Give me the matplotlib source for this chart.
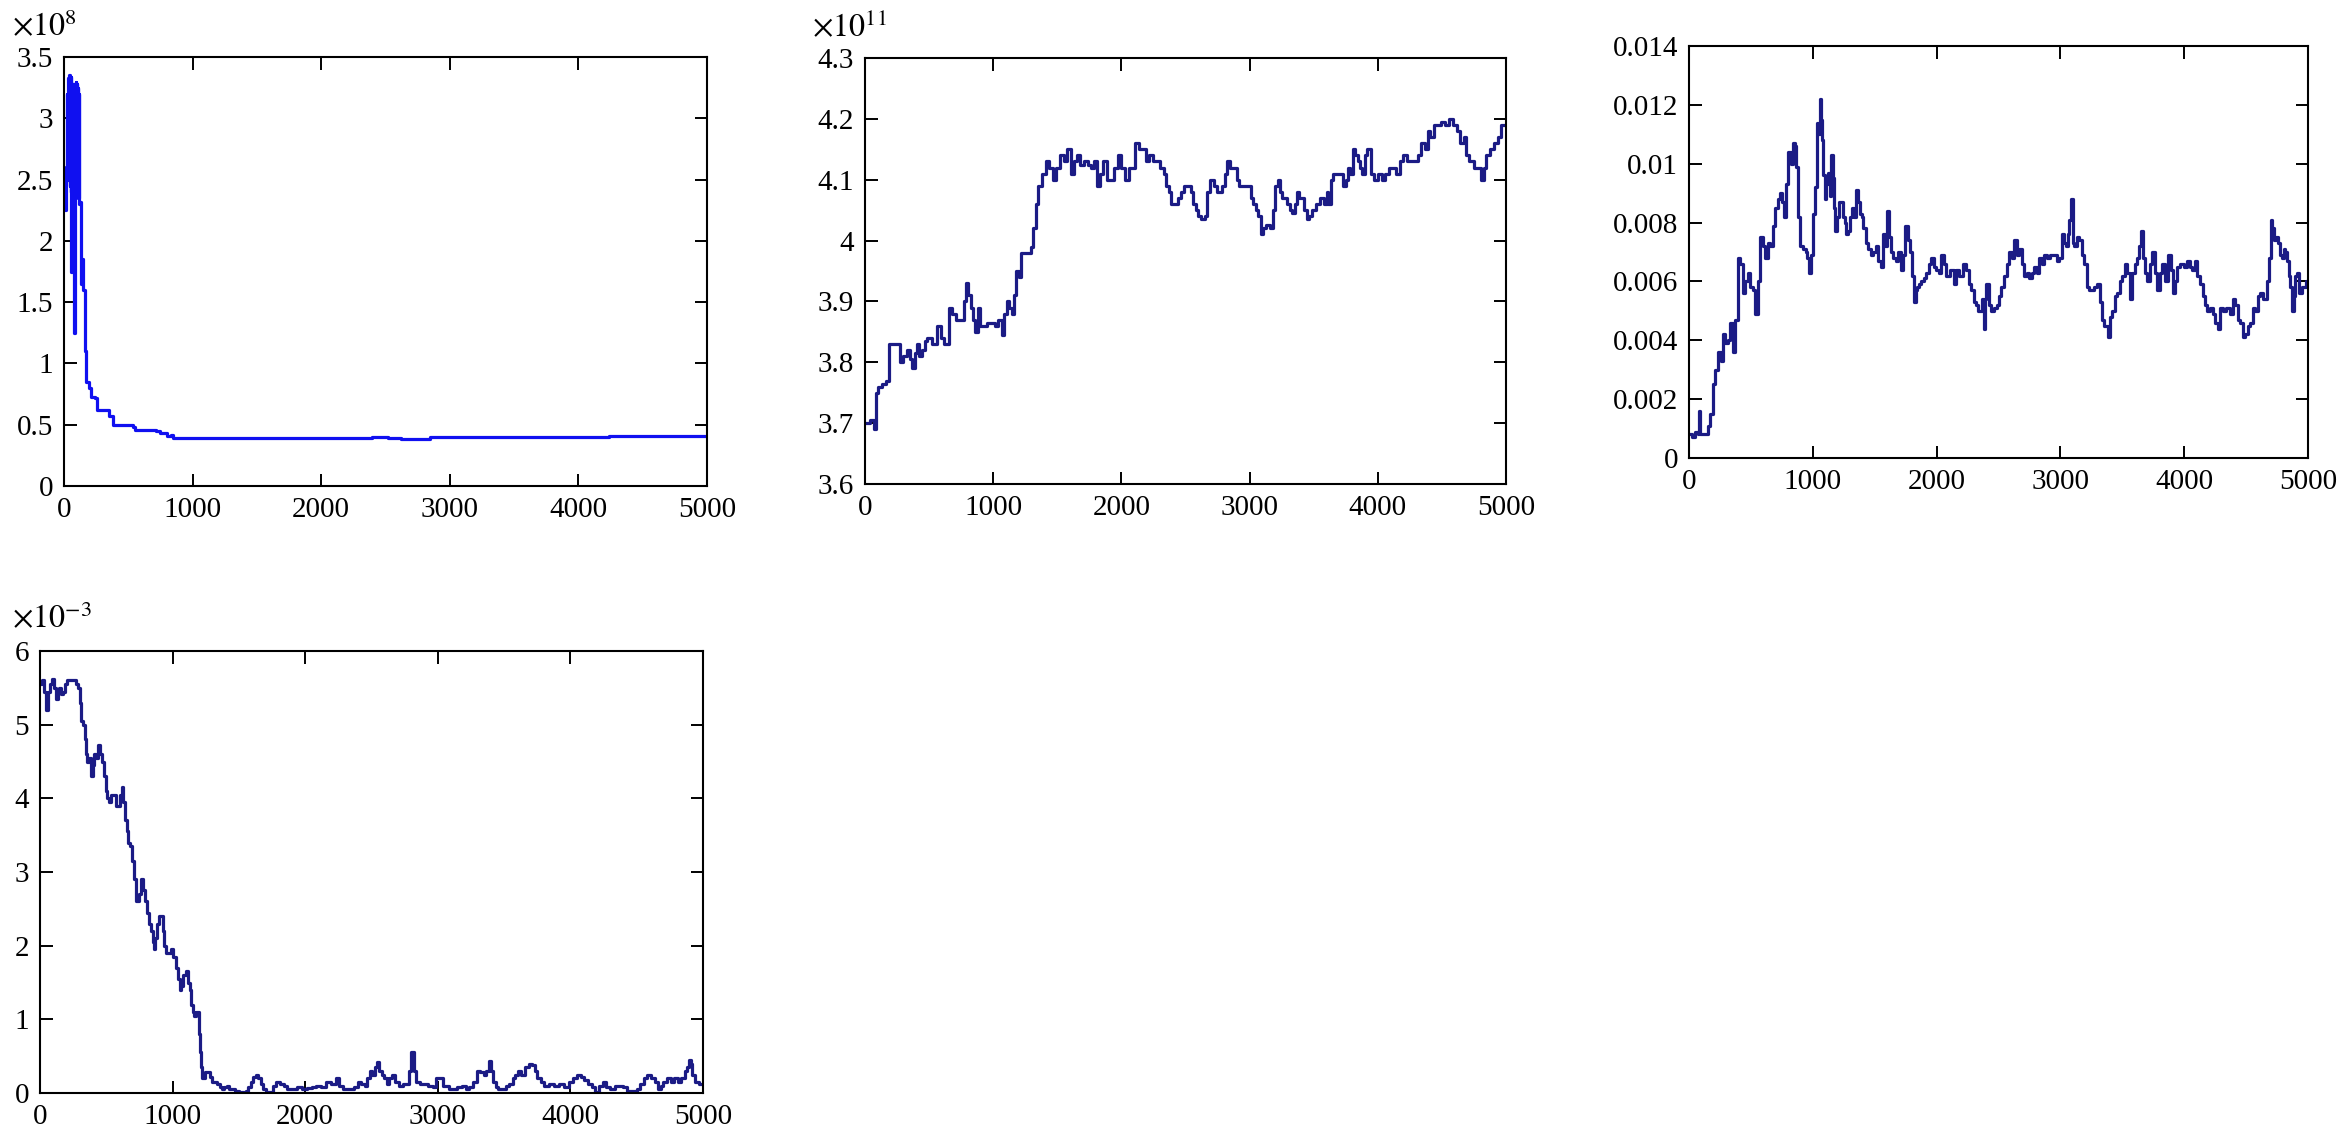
import numpy as np
import matplotlib
matplotlib.use('Agg')
import matplotlib.pyplot as plt
from matplotlib.ticker import FormatStrFormatter

plt.rcParams['font.family'] = ['Liberation Serif', 'DejaVu Serif']
plt.rcParams['mathtext.fontset'] = 'stix'

# trace values: (iteration, value in the units shown on each axis)
p1_pts = [
    (0, 2.55), (10, 2.25), (17, 2.6), (23, 3.2), (27, 2.5), (31, 3.33), (35, 2.6), (39, 3.35),
    (43, 2.45), (47, 3.3), (51, 2.4), (55, 3.34), (58, 1.75), (62, 3.1), (66, 2.5), (70, 3.28),
    (74, 2.35), (78, 1.25), (82, 3.0), (86, 2.4), (90, 3.3), (94, 2.5), (98, 3.28), (102, 2.4),
    (106, 3.25), (110, 2.35), (114, 3.2), (118, 2.3), (124, 2.32), (132, 1.65), (140, 1.85),
    (150, 1.6), (160, 1.1), (174, 0.85), (191, 0.8), (208, 0.73), (243, 0.72), (253, 0.62),
    (330, 0.62), (347, 0.57), (382, 0.5), (538, 0.48), (555, 0.46), (712, 0.45), (747, 0.43),
    (799, 0.41), (833, 0.42), (851, 0.39), (2378, 0.39), (2396, 0.40), (2517, 0.39),
    (2622, 0.385), (2639, 0.38), (2830, 0.38), (2847, 0.40), (4201, 0.40), (4236, 0.41),
    (5000, 0.41)]

p2_pts = [
    (0, 3.70), (40, 3.705), (70, 3.69), (87, 3.75), (100, 3.76), (130, 3.765), (160, 3.77),
    (190, 3.83), (255, 3.83), (275, 3.80), (300, 3.81), (330, 3.82), (350, 3.805), (370, 3.79),
    (390, 3.815), (408, 3.83), (425, 3.81), (445, 3.82), (465, 3.835), (483, 3.84), (520, 3.83),
    (558, 3.86), (590, 3.84), (615, 3.83), (653, 3.89), (680, 3.88), (710, 3.87), (747, 3.87),
    (770, 3.90), (785, 3.93), (800, 3.91), (823, 3.89), (845, 3.87), (860, 3.85), (880, 3.89),
    (898, 3.86), (950, 3.865), (1011, 3.86), (1040, 3.87), (1068, 3.845), (1085, 3.88),
    (1105, 3.90), (1125, 3.89), (1143, 3.88), (1160, 3.91), (1181, 3.95), (1200, 3.94),
    (1219, 3.98), (1275, 3.98), (1295, 3.99), (1313, 4.02), (1330, 4.06), (1351, 4.09),
    (1380, 4.11), (1408, 4.13), (1435, 4.12), (1464, 4.10), (1490, 4.12), (1521, 4.14),
    (1550, 4.13), (1577, 4.15), (1608, 4.11), (1630, 4.13), (1653, 4.14), (1680, 4.125),
    (1709, 4.13), (1740, 4.125), (1766, 4.12), (1790, 4.13), (1811, 4.09), (1835, 4.11),
    (1860, 4.13), (1890, 4.10), (1917, 4.10), (1945, 4.12), (1974, 4.14), (2000, 4.12),
    (2030, 4.10), (2060, 4.12), (2106, 4.16), (2135, 4.15), (2162, 4.15), (2190, 4.13),
    (2219, 4.14), (2245, 4.13), (2275, 4.13), (2300, 4.12), (2332, 4.11), (2350, 4.09),
    (2370, 4.08), (2390, 4.06), (2408, 4.06), (2440, 4.07), (2464, 4.08), (2490, 4.09),
    (2521, 4.09), (2540, 4.08), (2558, 4.06), (2580, 4.05), (2596, 4.04), (2620, 4.035),
    (2653, 4.04), (2670, 4.08), (2691, 4.10), (2720, 4.09), (2747, 4.08), (2765, 4.08),
    (2785, 4.09), (2805, 4.11), (2823, 4.13), (2850, 4.12), (2879, 4.12), (2900, 4.10),
    (2917, 4.09), (2960, 4.09), (2992, 4.09), (3010, 4.07), (3030, 4.06), (3050, 4.05),
    (3068, 4.04), (3090, 4.01), (3106, 4.02), (3130, 4.025), (3162, 4.02), (3180, 4.05),
    (3200, 4.09), (3220, 4.10), (3238, 4.08), (3255, 4.07), (3275, 4.07), (3295, 4.06),
    (3313, 4.05), (3330, 4.045), (3351, 4.06), (3370, 4.08), (3389, 4.07), (3410, 4.07),
    (3426, 4.05), (3445, 4.035), (3464, 4.04), (3490, 4.05), (3521, 4.06), (3550, 4.07),
    (3577, 4.06), (3600, 4.08), (3615, 4.06), (3635, 4.10), (3653, 4.11), (3690, 4.11),
    (3728, 4.09), (3750, 4.10), (3766, 4.12), (3785, 4.11), (3804, 4.15), (3825, 4.14),
    (3842, 4.13), (3860, 4.12), (3879, 4.11), (3900, 4.14), (3917, 4.15), (3945, 4.11),
    (3974, 4.10), (4000, 4.11), (4030, 4.10), (4060, 4.11), (4087, 4.12), (4115, 4.12),
    (4143, 4.11), (4170, 4.13), (4200, 4.14), (4230, 4.13), (4257, 4.13), (4285, 4.13),
    (4313, 4.14), (4340, 4.16), (4370, 4.15), (4390, 4.18), (4408, 4.17), (4435, 4.19),
    (4464, 4.19), (4490, 4.195), (4521, 4.19), (4558, 4.20), (4585, 4.19), (4615, 4.18),
    (4640, 4.16), (4672, 4.17), (4690, 4.14), (4709, 4.13), (4730, 4.13), (4747, 4.12),
    (4775, 4.12), (4804, 4.10), (4825, 4.12), (4842, 4.14), (4860, 4.14), (4879, 4.15),
    (4905, 4.16), (4936, 4.17), (4960, 4.19), (5000, 4.19)]

p3_x = [0, 28, 49, 70, 81, 88, 110, 150, 170, 190, 210, 231, 252, 260, 272, 290, 312,
        333, 353, 373, 394, 414, 434, 455, 475, 495, 515, 536, 556, 576, 597, 617, 637,
        657, 678, 698, 718, 739, 755, 771, 785, 800, 820, 840, 855, 868, 880, 893, 918,
        942, 955, 970, 985, 1002, 1018, 1031, 1045, 1055, 1063, 1071, 1084, 1096, 1110,
        1124, 1136, 1148, 1160, 1173, 1183, 1193, 1210, 1226, 1242, 1258, 1272, 1287,
        1300, 1315, 1330, 1347, 1362, 1380, 1395, 1408, 1428, 1449, 1470, 1490, 1510,
        1530, 1550, 1571, 1585, 1599, 1615, 1631, 1650, 1672, 1692, 1713, 1730, 1745,
        1765, 1786, 1800, 1814, 1830, 1843, 1860, 1875, 1895, 1916, 1936, 1956, 1977,
        1997, 2017, 2037, 2058, 2078, 2108, 2139, 2160, 2179, 2210, 2240, 2260, 2281,
        2300, 2321, 2338, 2354, 2368, 2382, 2392, 2403, 2423, 2443, 2464, 2484, 2504,
        2524, 2545, 2565, 2585, 2606, 2626, 2646, 2667, 2687, 2707, 2727, 2748, 2768,
        2788, 2808, 2829, 2849, 2869, 2889, 2920, 2950, 2970, 2991, 3012, 3032, 3046,
        3060, 3072, 3085, 3099, 3113, 3133, 3153, 3174, 3194, 3215, 3235, 3255, 3275,
        3296, 3316, 3336, 3356, 3370, 3385, 3400, 3417, 3437, 3458, 3478, 3498, 3519,
        3539, 3560, 3580, 3600, 3620, 3637, 3653, 3667, 3681, 3701, 3721, 3742, 3762,
        3782, 3803, 3823, 3843, 3870, 3896, 3910, 3925, 3945, 3965, 3995, 4026, 4046,
        4067, 4087, 4107, 4128, 4148, 4168, 4188, 4208, 4229, 4249, 4269, 4290, 4310,
        4340, 4371, 4391, 4411, 4432, 4452, 4472, 4493, 4513, 4533, 4554, 4574, 4594,
        4615, 4640, 4667, 4684, 4700, 4712, 4724, 4740, 4756, 4772, 4789, 4803, 4817,
        4831, 4846, 4858, 4870, 4885, 4899, 4913, 4927, 4950, 4980, 5000]
p3_y = [0.0008, 0.0007, 0.0009, 0.0008, 0.0016, 0.0008, 0.0008, 0.0011, 0.0015, 0.0025,
        0.0030, 0.0036, 0.0036, 0.0033, 0.0042, 0.0039, 0.0040, 0.0046, 0.0036, 0.0047,
        0.0068, 0.0066, 0.0056, 0.0060, 0.0063, 0.0058, 0.0057, 0.0049, 0.0060, 0.0075,
        0.0072, 0.0068, 0.0073, 0.0072, 0.0079, 0.0085, 0.0088, 0.0090, 0.0087, 0.0082,
        0.0093, 0.0104, 0.0100, 0.0107, 0.0106, 0.0099, 0.0082, 0.0072, 0.0071, 0.0070,
        0.0068, 0.0063, 0.0069, 0.0083, 0.0092, 0.0114, 0.0110, 0.0122, 0.0115, 0.0108,
        0.0096, 0.0088, 0.0093, 0.0097, 0.0089, 0.0103, 0.0095, 0.0085, 0.0077, 0.0082,
        0.0087, 0.0087, 0.0082, 0.0080, 0.0076, 0.0077, 0.0082, 0.0085, 0.0082, 0.0091,
        0.0087, 0.0083, 0.0082, 0.0078, 0.0073, 0.0071, 0.0069, 0.0070, 0.0072, 0.0067,
        0.0065, 0.0076, 0.0072, 0.0084, 0.0075, 0.0070, 0.0068, 0.0067, 0.0070, 0.0064,
        0.0069, 0.0079, 0.0074, 0.0070, 0.0062, 0.0053, 0.0057, 0.0058, 0.0059, 0.0060,
        0.0061, 0.0063, 0.0066, 0.0068, 0.0065, 0.0064, 0.0063, 0.0069, 0.0066, 0.0062,
        0.0064, 0.0059, 0.0064, 0.0062, 0.0066, 0.0064, 0.0059, 0.0057, 0.0053, 0.0052,
        0.0050, 0.0050, 0.0054, 0.0044, 0.0054, 0.0059, 0.0052, 0.0050, 0.0051, 0.0052,
        0.0055, 0.0058, 0.0062, 0.0066, 0.0070, 0.0068, 0.0074, 0.0069, 0.0071, 0.0066,
        0.0062, 0.0063, 0.0061, 0.0063, 0.0065, 0.0063, 0.0068, 0.0066, 0.0069, 0.0068,
        0.0069, 0.0069, 0.0067, 0.0068, 0.0076, 0.0073, 0.0072, 0.0076, 0.0081, 0.0088,
        0.0073, 0.0072, 0.0075, 0.0074, 0.0069, 0.0066, 0.0058, 0.0057, 0.0057, 0.0058,
        0.0059, 0.0053, 0.0047, 0.0045, 0.0045, 0.0041, 0.0048, 0.0050, 0.0055, 0.0056,
        0.0060, 0.0062, 0.0066, 0.0063, 0.0054, 0.0063, 0.0066, 0.0068, 0.0072, 0.0077,
        0.0068, 0.0063, 0.0060, 0.0066, 0.0070, 0.0063, 0.0057, 0.0063, 0.0066, 0.0060,
        0.0069, 0.0064, 0.0056, 0.0060, 0.0065, 0.0066, 0.0065, 0.0067, 0.0065, 0.0064,
        0.0067, 0.0062, 0.0059, 0.0055, 0.0052, 0.0050, 0.0051, 0.0049, 0.0046, 0.0044,
        0.0051, 0.0050, 0.0051, 0.0049, 0.0054, 0.0052, 0.0047, 0.0046, 0.0041, 0.0042,
        0.0045, 0.0046, 0.0051, 0.0050, 0.0055, 0.0056, 0.0054, 0.0060, 0.0068, 0.0081,
        0.0078, 0.0074, 0.0075, 0.0073, 0.0069, 0.0068, 0.0071, 0.0070, 0.0067, 0.0062,
        0.0058, 0.0050, 0.0055, 0.0062, 0.0063, 0.0056, 0.0058, 0.0060, 0.0060]

p4_pts = [
    (0, 5.55), (18, 5.6), (30, 5.45), (44, 5.2), (62, 5.45), (78, 5.55), (91, 5.62), (105, 5.5),
    (117, 5.35), (132, 5.45), (146, 5.5), (162, 5.42), (176, 5.45), (190, 5.55), (201, 5.6),
    (256, 5.6), (271, 5.55), (285, 5.5), (298, 5.3), (311, 5.05), (325, 5.0), (337, 4.8),
    (348, 4.6), (358, 4.5), (372, 4.55), (384, 4.3), (397, 4.45), (410, 4.6), (425, 4.55),
    (439, 4.72), (455, 4.6), (468, 4.5), (481, 4.3), (494, 4.1), (507, 4.0), (519, 3.95),
    (537, 4.05), (556, 4.05), (570, 3.9), (585, 3.9), (600, 4.05), (615, 4.15), (628, 3.95),
    (640, 3.7), (653, 3.55), (666, 3.4), (681, 3.35), (695, 3.15), (710, 2.9), (724, 2.6),
    (743, 2.7), (761, 2.9), (775, 2.75), (790, 2.6), (806, 2.45), (823, 2.3), (836, 2.2),
    (849, 2.05), (860, 1.95), (870, 2.1), (883, 2.3), (896, 2.4), (910, 2.4), (925, 2.2),
    (938, 2.0), (951, 1.9), (970, 1.9), (988, 1.95), (1006, 1.85), (1024, 1.7), (1038, 1.55),
    (1053, 1.4), (1066, 1.45), (1079, 1.6), (1098, 1.65), (1116, 1.5), (1128, 1.4), (1141, 1.2),
    (1152, 1.1), (1163, 1.05), (1176, 1.1), (1189, 1.1), (1198, 0.8), (1207, 0.55), (1216, 0.35),
    (1225, 0.2), (1244, 0.28), (1262, 0.28), (1280, 0.22), (1298, 0.15), (1317, 0.15),
    (1335, 0.12), (1354, 0.08), (1372, 0.05), (1390, 0.08), (1408, 0.1), (1427, 0.06),
    (1445, 0.05), (1472, 0.03), (1500, 0.02), (1527, 0.02), (1554, 0.03), (1572, 0.08),
    (1591, 0.15), (1609, 0.22), (1627, 0.25), (1646, 0.2), (1664, 0.12), (1683, 0.05),
    (1701, 0.02), (1728, 0.02), (1756, 0.1), (1783, 0.15), (1810, 0.12), (1838, 0.1),
    (1865, 0.05), (1902, 0.06), (1939, 0.08), (1976, 0.05), (2012, 0.07), (2049, 0.08),
    (2085, 0.1), (2122, 0.08), (2158, 0.15), (2195, 0.12), (2231, 0.2), (2258, 0.1),
    (2286, 0.05), (2314, 0.05), (2341, 0.05), (2369, 0.08), (2396, 0.15), (2424, 0.12),
    (2451, 0.1), (2469, 0.2), (2487, 0.3), (2505, 0.25), (2524, 0.35), (2542, 0.42),
    (2560, 0.3), (2579, 0.25), (2597, 0.2), (2615, 0.12), (2634, 0.2), (2652, 0.25),
    (2680, 0.15), (2707, 0.1), (2735, 0.12), (2762, 0.12), (2780, 0.3), (2798, 0.55),
    (2817, 0.3), (2835, 0.15), (2862, 0.12), (2890, 0.12), (2927, 0.1), (2963, 0.08),
    (2990, 0.2), (3018, 0.2), (3036, 0.1), (3054, 0.1), (3082, 0.05), (3109, 0.05),
    (3146, 0.08), (3182, 0.1), (3210, 0.05), (3237, 0.08), (3264, 0.15), (3292, 0.3),
    (3320, 0.28), (3347, 0.25), (3365, 0.3), (3383, 0.43), (3401, 0.3), (3420, 0.15),
    (3438, 0.08), (3457, 0.05), (3484, 0.05), (3511, 0.1), (3539, 0.12), (3566, 0.2),
    (3584, 0.25), (3603, 0.3), (3630, 0.25), (3658, 0.35), (3685, 0.4), (3713, 0.38),
    (3731, 0.3), (3749, 0.2), (3777, 0.15), (3804, 0.1), (3840, 0.12), (3877, 0.1),
    (3914, 0.12), (3950, 0.08), (3987, 0.15), (4023, 0.2), (4050, 0.25), (4078, 0.22),
    (4105, 0.18), (4133, 0.12), (4160, 0.08), (4188, 0.02), (4215, 0.1), (4243, 0.15),
    (4270, 0.08), (4298, 0.05), (4335, 0.1), (4371, 0.1), (4398, 0.08), (4426, 0.03),
    (4462, 0.03), (4499, 0.05), (4527, 0.12), (4554, 0.2), (4581, 0.25), (4609, 0.2),
    (4636, 0.15), (4664, 0.05), (4682, 0.1), (4700, 0.15), (4727, 0.2), (4755, 0.15),
    (4782, 0.2), (4810, 0.15), (4837, 0.2), (4865, 0.3), (4880, 0.35), (4894, 0.45),
    (4907, 0.4), (4920, 0.25), (4938, 0.15), (4956, 0.15), (4970, 0.12), (4985, 0.12),
    (5000, 0.12)]

p1_x, p1_y = np.array(p1_pts).T
p2_x, p2_y = np.array(p2_pts).T
p4_x, p4_y = np.array(p4_pts).T

W, H = 2347, 1137
fig = plt.figure(figsize=(W / 100, H / 100), dpi=100)


def add_panel(left, right, top, bottom):
    return fig.add_axes([left / W, 1 - bottom / H, (right - left) / W, (bottom - top) / H])


navy = '#1b1b85'
panels = [
    (add_panel(64, 707, 57, 486), p1_x, p1_y, '#1010f0', (0, 3.5), 0.5, r'$\times10^{8}$', (12, 36)),
    (add_panel(865, 1506, 58, 484), p2_x, p2_y, navy, (3.6, 4.3), 0.1, r'$\times10^{11}$', (812, 36)),
    (add_panel(1689, 2308, 46, 458), p3_x, p3_y, navy, (0, 0.014), 0.002, None, None),
    (add_panel(40, 703, 651, 1093), p4_x, p4_y, navy, (0, 6), 1, r'$\times10^{-3}$', (12, 628)),
]

for ax, xs, ys, col, ylim, step, offset, opos in panels:
    ax.step(xs, ys, where='post', color=col, lw=2.3)
    ax.set_xlim(0, 5000)
    ax.set_ylim(*ylim)
    ax.set_xticks(np.arange(0, 5001, 1000))
    ax.set_yticks(np.arange(ylim[0], ylim[1] + step / 2, step))
    ax.yaxis.set_major_formatter(FormatStrFormatter('%g'))
    ax.tick_params(direction='in', length=9, width=1.4, labelsize=21, top=True, right=True, pad=8)
    for s in ax.spines.values():
        s.set_linewidth(1.5)
    if offset:
        fig.text(opos[0] / W, 1 - opos[1] / H, offset, fontsize=23, va='baseline')

fig.savefig('out.png', dpi=100)
